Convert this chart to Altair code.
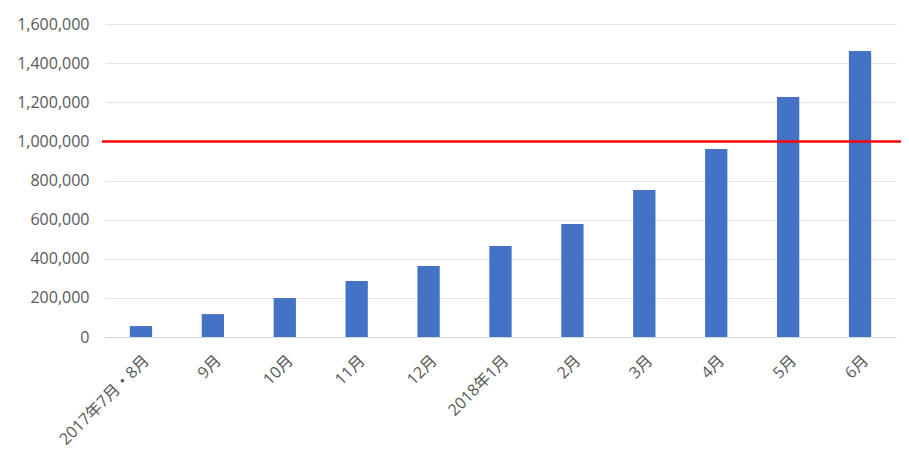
import altair as alt
import pandas as pd

categories = ["2017年7月・8月", "9月", "10月", "11月", "12月", "2018年1月",
              "2月", "3月", "4月", "5月", "6月"]
values = [56000, 117000, 199000, 286000, 363000, 465000,
          578000, 751000, 961000, 1227000, 1462000]
threshold = [1000000]
y_ticks = [0, 200000, 400000, 600000, 800000, 1000000, 1200000, 1400000, 1600000]

df = pd.DataFrame({"month": categories, "count": values})
tdf = pd.DataFrame({"count": threshold})

FONT = "Open Sans, Noto Sans CJK JP, sans-serif"


def y_enc():
    return alt.Y("count:Q", title=None,
                 scale=alt.Scale(domain=[0, 1600000]),
                 axis=alt.Axis(values=y_ticks, format=",.0f", formatType="number",
                               ticks=False, domain=False, gridColor="#e3e3e3",
                               labelColor="#595959", labelFontSize=16, labelFont=FONT,
                               labelPadding=16))


bars = alt.Chart(df).mark_bar(color="#4472C4").encode(
    x=alt.X("month:N", sort=categories, title=None,
            scale=alt.Scale(paddingInner=0.69, paddingOuter=0.345),
            axis=alt.Axis(labelAngle=-45, ticks=False, domain=True,
                          domainColor="#d9d9d9", labelColor="#595959",
                          labelFontSize=16, labelFont=FONT, labelPadding=15)),
    y=y_enc(),
)

rule = alt.Chart(tdf).mark_rule(color="#FF0000", strokeWidth=2.5, clip=False).encode(
    y=y_enc(),
    x=alt.value(-3),
    x2=alt.value(806),
)

chart = alt.layer(bars, rule).properties(
    width=791, height=313,
    autosize=alt.AutoSizeParams(type="none"),
    padding={"left": 97, "top": 16, "right": 5, "bottom": 112},
).configure_view(stroke=None)

chart.save("out.html", embed_options={"renderer": "svg", "actions": False})
